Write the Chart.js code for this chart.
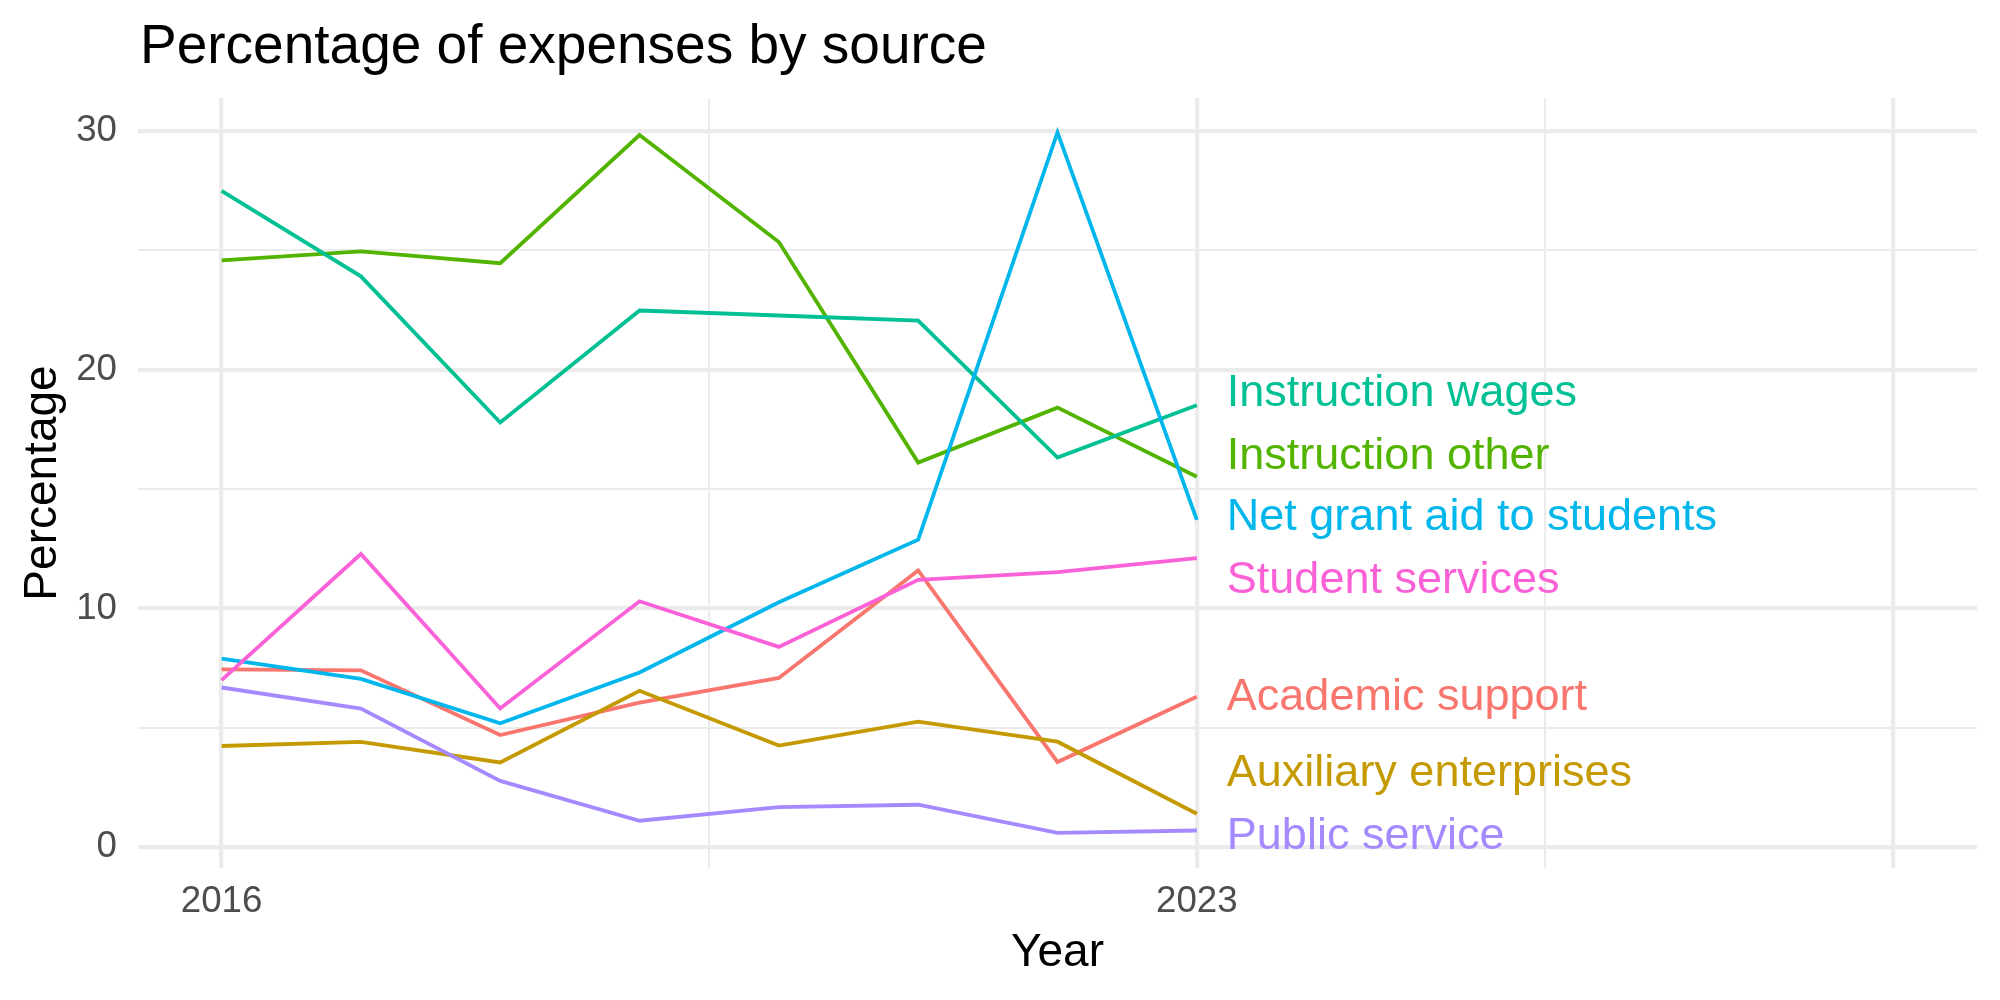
<!DOCTYPE html>
<html>
<head>
<meta charset="utf-8">
<title>Percentage of expenses by source</title>
<script src="https://cdn.jsdelivr.net/npm/chart.js@4.4.1/dist/chart.umd.min.js"></script>
<style>
  html, body { margin: 0; padding: 0; background: #ffffff; }
  #wrap { width: 2000px; height: 1000px; }
</style>
</head>
<body>
<div id="wrap"><canvas id="expensesChart" width="2000" height="1000"></canvas></div>
<script>
// data
const years = [2016, 2017, 2018, 2019, 2020, 2021, 2022, 2023];

const sources = ["Academic support", "Auxiliary enterprises", "Instruction other",
                 "Instruction wages", "Net grant aid to students", "Public service", "Student services"];

const academicSupport   = [7.45, 7.41, 4.70, 6.06, 7.09, 11.59, 3.57, 6.30];
const auxiliary         = [4.24, 4.41, 3.55, 6.55, 4.26, 5.26, 4.42, 1.40];
const instructionOther  = [24.58, 24.96, 24.46, 29.83, 25.35, 16.11, 18.41, 15.52];
const instructionWages  = [27.49, 23.91, 17.79, 22.48, 22.27, 22.06, 16.32, 18.51];
const netGrantAid       = [7.90, 7.05, 5.19, 7.32, 10.26, 12.88, 29.94, 13.71];
const publicService     = [6.69, 5.81, 2.78, 1.11, 1.68, 1.78, 0.60, 0.70];
const studentServices   = [7.00, 12.28, 5.81, 10.30, 8.39, 11.20, 11.52, 12.11];

// ggplot hue colours, one per source
const colours = ["#F8766D", "#C49A00", "#53B400", "#00C094", "#00B6EB", "#A58AFF", "#FB61D7"];

// where the direct labels sit (value units, already spread apart)
const labelValues = [6.28, 3.09, 16.38, 18.99, 13.79, 0.46, 11.18];

// axis breaks
const xBreaks = [2016, 2019.5, 2023, 2025.5, 2028];
const xMajor = [2016, 2023, 2028];
const xTickLabels = {2016: "2016", 2023: "2023"};
const yBreaks = [0, 5, 10, 15, 20, 25, 30];
const yMajor = [0, 10, 20, 30];

const allValues = [academicSupport, auxiliary, instructionOther, instructionWages,
                   netGrantAid, publicService, studentServices];

const FONT = "'Liberation Sans', Arial, Helvetica, sans-serif";
const GRID = "#EBEBEB";

const datasets = sources.map((name, i) => ({
    label: name,
    data: years.map((yr, j) => ({ x: yr, y: allValues[i][j] })),
    borderColor: colours[i],
    backgroundColor: colours[i],
    borderWidth: 3.8,
    pointRadius: 0,
    tension: 0,
    fill: false,
    order: sources.length - i   // later series drawn on top, like ggplot
}));

// title drawn at the left edge of the panel
const titlePlugin = {
    id: "panelTitle",
    afterDraw(chart) {
        const ctx = chart.ctx;
        ctx.save();
        ctx.font = "55px " + FONT;
        ctx.fillStyle = "#000000";
        ctx.textAlign = "left";
        ctx.textBaseline = "alphabetic";
        ctx.fillText("Percentage of expenses by source", chart.chartArea.left + 2, 63);
        ctx.restore();
    }
};

// direct labels to the right of the last year
const endLabels = {
    id: "endLabels",
    afterDatasetsDraw(chart) {
        const ctx = chart.ctx;
        const xs = chart.scales.x, ys = chart.scales.y;
        const x0 = xs.getPixelForValue(years[years.length - 1]) + 30;
        ctx.save();
        ctx.font = "45px " + FONT;
        ctx.textAlign = "left";
        ctx.textBaseline = "middle";
        sources.forEach((name, i) => {
            ctx.fillStyle = colours[i];
            ctx.fillText(name, x0, ys.getPixelForValue(labelValues[i]));
        });
        ctx.restore();
    }
};

new Chart(document.getElementById("expensesChart"), {
    type: "line",
    data: { datasets },
    options: {
        responsive: false,
        devicePixelRatio: 1,
        animation: false,
        layout: { padding: { top: 98, right: 23, bottom: 0, left: 0 } },
        plugins: {
            legend: { display: false },
            tooltip: { enabled: false },
            title: { display: false }
        },
        scales: {
            x: {
                type: "linear",
                min: 2015.4,
                max: 2028.6,
                afterBuildTicks: (scale) => { scale.ticks = xBreaks.map(v => ({ value: v })); },
                afterFit: (scale) => { scale.height = 132; },
                border: { display: false },
                grid: {
                    color: GRID,
                    drawTicks: false,
                    lineWidth: (c) => xMajor.includes(c.tick && c.tick.value) ? 4.2 : 2.1
                },
                ticks: {
                    autoSkip: false,
                    maxRotation: 0,
                    padding: 12,
                    color: "#4D4D4D",
                    font: { family: FONT, size: 36.7 },
                    callback: (v) => xTickLabels[v] || ""
                },
                title: {
                    display: true,
                    text: "Year",
                    color: "#000000",
                    font: { family: FONT, size: 46 },
                    padding: { top: 0, bottom: 19 }
                }
            },
            y: {
                type: "linear",
                min: -0.87,
                max: 31.38,
                afterBuildTicks: (scale) => { scale.ticks = yBreaks.map(v => ({ value: v })); },
                afterFit: (scale) => { scale.width = 138; },
                border: { display: false },
                grid: {
                    color: GRID,
                    drawTicks: false,
                    lineWidth: (c) => yMajor.includes(c.tick && c.tick.value) ? 4.2 : 2.1
                },
                ticks: {
                    padding: 21,
                    color: "#4D4D4D",
                    font: { family: FONT, size: 36.7 },
                    callback: (v) => yMajor.includes(v) ? String(v) : ""
                },
                title: {
                    display: true,
                    text: "Percentage",
                    color: "#000000",
                    font: { family: FONT, size: 46 },
                    padding: { top: 16, bottom: 0 }
                }
            }
        }
    },
    plugins: [titlePlugin, endLabels]
});
</script>
</body>
</html>
